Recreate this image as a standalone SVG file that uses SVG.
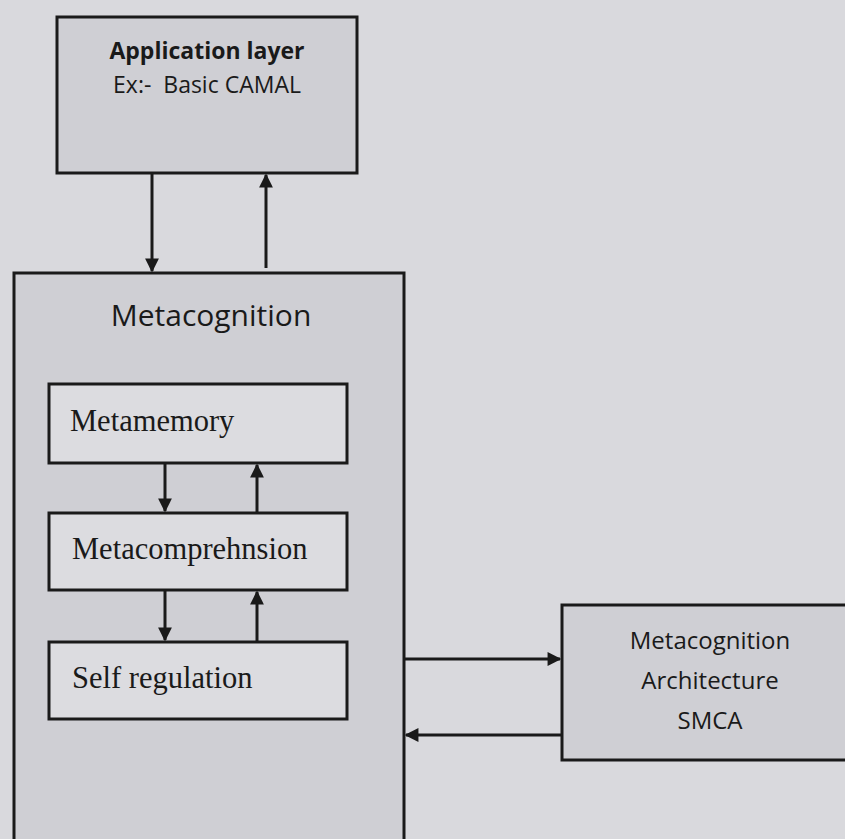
<svg xmlns="http://www.w3.org/2000/svg" width="845" height="839" viewBox="0 0 845 839">
  <style>
    .box { fill: #cfcfd4; stroke: #1a1a1a; stroke-width: 3; }
    .inner { fill: #dcdce0; stroke: #1a1a1a; stroke-width: 3; }
    .casual { font-family: "Open Sans", "DejaVu Sans", sans-serif; fill: #1a1a1a; text-anchor: middle; }
    .serif { font-family: "Liberation Serif", serif; fill: #1a1a1a; font-size: 30.5px; }
    .conn { stroke: #1a1a1a; stroke-width: 3; fill: none; marker-end: url(#head); }
  </style>
  <defs>
    <marker id="head" viewBox="0 0 10 10" refX="9" refY="5" markerWidth="5" markerHeight="4.6" markerUnits="strokeWidth" orient="auto">
      <path d="M0,0 L10,5 L0,10 z" fill="#1a1a1a"/>
    </marker>
  </defs>
  <rect width="845" height="839" fill="#d9d9dd"/>

  <g id="application-layer">
    <rect class="box" x="57" y="17" width="300" height="156"/>
    <text class="casual" x="207" y="59" font-size="23" font-weight="bold">Application layer</text>
    <text class="casual" x="207" y="93" font-size="23" xml:space="preserve">Ex:-  Basic CAMAL</text>
  </g>

  <g id="metacognition">
    <rect class="box" x="14" y="273" width="390" height="570"/>
    <text class="casual" x="211" y="326" font-size="30">Metacognition</text>
  </g>

  <g id="metamemory">
    <rect class="inner" x="49" y="384" width="298" height="79"/>
    <text class="serif" x="70" y="431">Metamemory</text>
  </g>

  <g id="metacomprehension">
    <rect class="inner" x="49" y="513" width="298" height="77"/>
    <text class="serif" x="72" y="559">Metacomprehnsion</text>
  </g>

  <g id="self-regulation">
    <rect class="inner" x="49" y="642" width="298" height="77"/>
    <text class="serif" x="72" y="688">Self regulation</text>
  </g>

  <g id="smca">
    <rect class="box" x="562" y="605" width="290" height="155"/>
    <text class="casual" x="710" y="649" font-size="24">Metacognition</text>
    <text class="casual" x="710" y="689" font-size="24">Architecture</text>
    <text class="casual" x="710" y="729" font-size="24">SMCA</text>
  </g>

  <g id="connectors">
    <line class="conn" x1="152" y1="173" x2="152" y2="271"/>
    <line class="conn" x1="266" y1="268" x2="266" y2="175"/>
    <line class="conn" x1="165" y1="463" x2="165" y2="511"/>
    <line class="conn" x1="257" y1="513" x2="257" y2="465"/>
    <line class="conn" x1="165" y1="590" x2="165" y2="640"/>
    <line class="conn" x1="257" y1="642" x2="257" y2="592"/>
    <line class="conn" x1="404" y1="659" x2="560" y2="659"/>
    <line class="conn" x1="562" y1="735" x2="406" y2="735"/>
  </g>
</svg>
